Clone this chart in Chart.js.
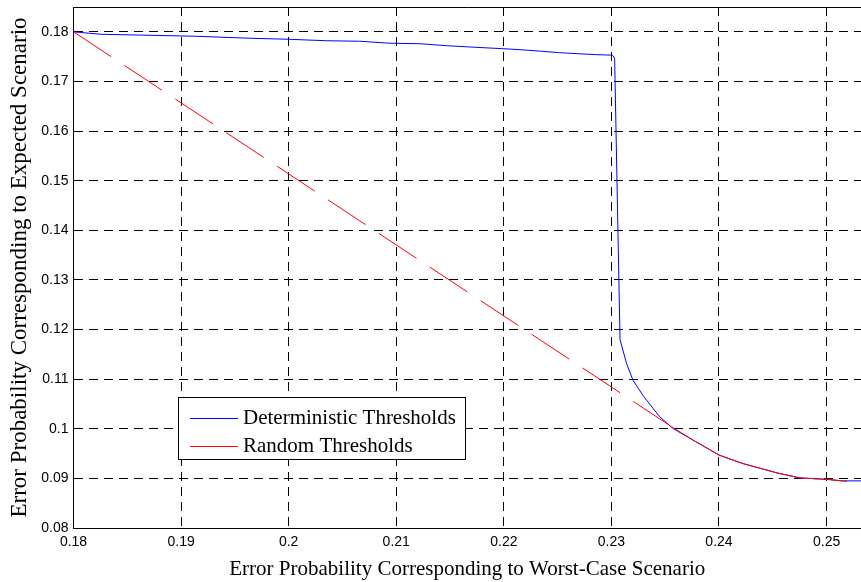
<!DOCTYPE html>
<html>
<head>
<meta charset="utf-8">
<script src="https://cdn.jsdelivr.net/npm/chart.js@4"></script>
<style>
  body { margin: 0; background: #fff; }
  #caja { width: 861px; height: 582px; }
</style>
</head>
<body>
<div id="caja"><canvas id="grafico"></canvas></div>
<script>
// valores
const xDeterministico = [0.18, 0.1815, 0.1826, 0.1871, 0.1914, 0.1964, 0.2000, 0.2035, 0.2066, 0.2094, 0.2122,
  0.2147, 0.2172, 0.2199, 0.2215, 0.2234, 0.2251, 0.2268, 0.2285, 0.2301, 0.2303, 0.2308, 0.2314, 0.2320,
  0.2330, 0.2345, 0.2357, 0.2376, 0.2400, 0.2422, 0.2454, 0.2475, 0.2500, 0.2515, 0.2532];
const yDeterministico = [0.1800, 0.1797, 0.1795, 0.1793, 0.1791, 0.1787, 0.1785, 0.1782, 0.1781, 0.1777, 0.1776,
  0.1772, 0.1769, 0.1766, 0.1764, 0.1761, 0.1758, 0.1756, 0.1754, 0.1753, 0.1747, 0.1180, 0.1132, 0.1098,
  0.1065, 0.1024, 0.1001, 0.0977, 0.0947, 0.0930, 0.0911, 0.0901, 0.0898, 0.0895, 0.0895];
const xAleatorio = [0.18, 0.2356, 0.2376, 0.2400, 0.2422, 0.2454, 0.2475, 0.2500, 0.2519];
const yAleatorio = [0.18, 0.1004, 0.0977, 0.0947, 0.0930, 0.0911, 0.0901, 0.0898, 0.0894];
const ticksX = [0.18, 0.19, 0.20, 0.21, 0.22, 0.23, 0.24, 0.25];
const ticksY = [0.08, 0.09, 0.10, 0.11, 0.12, 0.13, 0.14, 0.15, 0.16, 0.17, 0.18];
const etiquetas = ["Deterministic Thresholds", "Random Thresholds"];

const puntos = (xs, ys) => xs.map((x, i) => ({ x, y: ys[i] }));

const leyenda = {
  id: "leyenda",
  afterDraw(chart) {
    const ctx = chart.ctx;
    const area = chart.chartArea;
    ctx.save();
    // borde superior del area
    ctx.strokeStyle = "#000";
    ctx.lineWidth = 1;
    ctx.beginPath();
    ctx.moveTo(area.left, area.top + 0.5);
    ctx.lineTo(area.right, area.top + 0.5);
    ctx.stroke();
    // caja de leyenda
    ctx.fillStyle = "#fff";
    ctx.fillRect(178.5, 397.5, 287, 62);
    ctx.strokeRect(178.5, 397.5, 287, 62);
    ctx.font = "21px 'Liberation Serif'";
    ctx.textBaseline = "middle";
    const filas = [418, 446];
    chart.data.datasets.forEach((ds, i) => {
      ctx.strokeStyle = ds.borderColor;
      ctx.beginPath();
      ctx.moveTo(190, filas[i] + 0.5);
      ctx.lineTo(238, filas[i] + 0.5);
      ctx.stroke();
      ctx.fillStyle = "#000";
      ctx.fillText(ds.label, 243, filas[i]);
    });
    ctx.restore();
  }
};

const formato = (v) => String(+v.toFixed(4));

new Chart(document.getElementById("grafico"), {
  type: "line",
  data: {
    datasets: [
      {
        label: etiquetas[0],
        data: puntos(xDeterministico, yDeterministico),
        borderColor: "#0000ff",
        borderWidth: 1,
        pointRadius: 0,
        order: 2
      },
      {
        label: etiquetas[1],
        data: puntos(xAleatorio, yAleatorio),
        borderColor: "#ff0000",
        borderWidth: 1,
        pointRadius: 0,
        order: 1,
        segment: {
          borderDash: (c) => (c.p0DataIndex === 0 ? [45, 16] : [])
        }
      }
    ]
  },
  options: {
    responsive: true,
    maintainAspectRatio: false,
    animation: false,
    layout: { padding: { top: 7, right: 0, left: 0, bottom: 0 } },
    plugins: { legend: { display: false }, tooltip: { enabled: false } },
    scales: {
      x: {
        type: "linear",
        min: 0.18,
        max: 0.2532,
        afterBuildTicks: (s) => { s.ticks = ticksX.map((value) => ({ value })); },
        afterFit: (s) => { s.height = 54; s.paddingLeft = 0; s.paddingRight = 0; },
        ticks: { callback: formato, color: "#000", padding: 6, maxRotation: 0,
          font: { family: "'Liberation Sans'", size: 14 } },
        grid: { color: "#000", drawTicks: false },
        border: { color: "#000", width: 1, dash: [9, 6] },
        title: { display: true, text: "Error Probability Corresponding to Worst-Case Scenario",
          color: "#000", font: { family: "'Liberation Serif'", size: 21 }, padding: { top: 0, bottom: 0 } }
      },
      y: {
        min: 0.08,
        max: 0.185,
        afterBuildTicks: (s) => { s.ticks = ticksY.map((value) => ({ value })); },
        afterFit: (s) => { s.width = 73.5; s.paddingTop = 0; s.paddingBottom = 0; },
        ticks: { callback: formato, color: "#000", padding: 5,
          font: { family: "'Liberation Sans'", size: 14 } },
        grid: { color: "#000", drawTicks: false },
        border: { color: "#000", width: 1, dash: [9, 6] },
        title: { display: true, text: "Error Probability Corresponding to Expected Scenario",
          color: "#000", font: { family: "'Liberation Serif'", size: 23 }, padding: { top: 6, bottom: 0 } }
      }
    }
  },
  plugins: [leyenda]
});
</script>
</body>
</html>
